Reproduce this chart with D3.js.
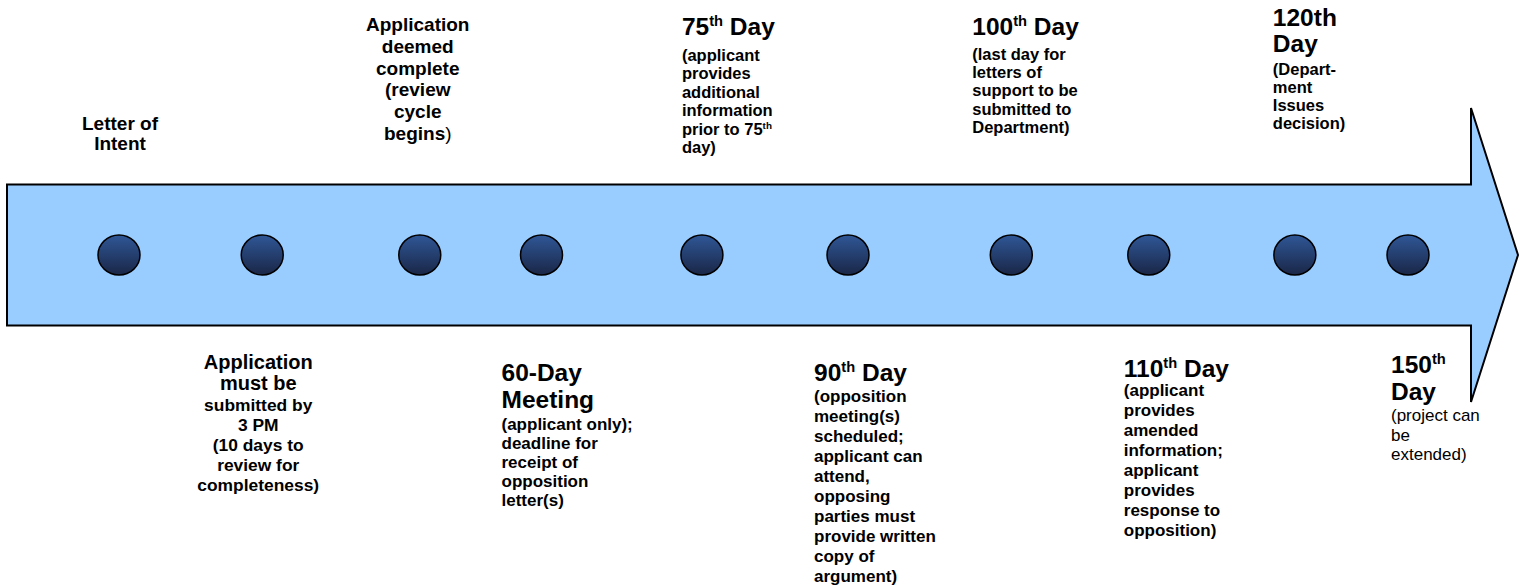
<!DOCTYPE html>
<meta charset="utf-8">
<style>
    body { margin: 0; background: #fff; }
    svg text { font-family: "Liberation Sans", Arial, sans-serif; fill: #000; }
</style>
<svg width="1526" height="586"></svg>
<script src="https://cdn.jsdelivr.net/npm/d3@7"></script>
<script>
    // milestones along the review timeline, left to right
    var milestones = ["Letter of Intent", "Submission", "Complete", "60-Day Meeting", "75th Day",
        "90th Day", "100th Day", "110th Day", "120th Day", "150th Day"];
    // where each dot sits on the arrow, in dot-spacing units
    var slots = [0, 1.0, 2.1, 2.95, 4.07, 5.09, 6.23, 7.19, 8.21, 9.0];
    var sides = ["above", "below", "above", "below", "above", "below", "above", "below", "above", "below"];
    // ^..^ = superscript, _.._ = regular weight
    var titles = [[], [], [], ["60-Day", "Meeting"], ["75^th^ Day"], ["90^th^ Day"], ["100^th^ Day"],
        ["110^th^ Day"], ["120th", "Day"], ["150^th^", "Day"]];
    var notes = [
        ["Letter of", "Intent"],
        ["Application", "must be", "submitted by", "3 PM", "(10 days to", "review for", "completeness)"],
        ["Application", "deemed", "complete", "(review", "cycle", "begins_)_"],
        ["(applicant only);", "deadline for", "receipt of", "opposition", "letter(s)"],
        ["(applicant", "provides", "additional", "information", "prior to 75^th^", "day)"],
        ["(opposition", "meeting(s)", "scheduled;", "applicant can", "attend,", "opposing", "parties must",
            "provide written", "copy of", "argument)"],
        ["(last day for", "letters of", "support to be", "submitted to", "Department)"],
        ["(applicant", "provides", "amended", "information;", "applicant", "provides", "response to",
            "opposition)"],
        ["(Depart-", "ment", "Issues", "decision)"],
        ["(project can", "be", "extended)"]
    ];

    // text box layout for each label (anchor, offset from dot, baselines, sizes)
    var layout = [
        {anchor: "middle", dx: 1, ny: 130, ns: 19, nlh: 19.5},
        {anchor: "middle", dx: -4, ny: 369, ns: 17.4, nlh: 20, big: 2, bs: 20, blh: 21},
        {anchor: "middle", dx: -2, ny: 31, ns: 19, nlh: 21.8},
        {anchor: "start", dx: -40, ty: 381, ts: 24.5, tlh: 27, ny: 430, ns: 17, nlh: 19},
        {anchor: "start", dx: -20, ty: 35, ts: 24.5, tlh: 28, ny: 61, ns: 16.5, nlh: 18.4},
        {anchor: "start", dx: -34, ty: 381, ts: 24.5, tlh: 28, ny: 402, ns: 17, nlh: 20},
        {anchor: "start", dx: -39, ty: 35, ts: 24.5, tlh: 28, ny: 60, ns: 16.5, nlh: 18.2},
        {anchor: "start", dx: -25, ty: 377, ts: 24.5, tlh: 28, ny: 396, ns: 17, nlh: 20},
        {anchor: "start", dx: -22, ty: 26, ts: 24.5, tlh: 26, ny: 75, ns: 16.5, nlh: 18},
        {anchor: "start", dx: -17, ty: 373, ts: 24.5, tlh: 27, ny: 421, ns: 17, nlh: 19.5, weight: "normal"}
    ];

    var svg = d3.select("svg"),
        width = +svg.attr("width"),
        height = +svg.attr("height"),
        cy = 255;

    var x = d3.scaleLinear().domain([0, 9]).range([119, 1408]);

    // big arrow
    var left = 7, shaftEnd = 1471, tip = 1518, shaft = 70.5, head = 147;
    var arrowPts = [[left, cy - shaft], [shaftEnd, cy - shaft], [shaftEnd, cy - head], [tip, cy],
        [shaftEnd, cy + head], [shaftEnd, cy + shaft], [left, cy + shaft]];
    svg.append("path")
        .attr("d", d3.line()(arrowPts) + "Z")
        .attr("fill", "#99ccff")
        .attr("stroke", "#000")
        .attr("stroke-width", 2)
        .attr("stroke-linejoin", "miter");

    var grad = svg.append("defs").append("linearGradient")
        .attr("id", "dot").attr("x1", 0).attr("y1", 0).attr("x2", 0).attr("y2", 1);
    grad.append("stop").attr("offset", "0%").attr("stop-color", "#2f5796");
    grad.append("stop").attr("offset", "100%").attr("stop-color", "#1a2646");

    svg.selectAll(".dot")
        .data(milestones)
        .enter().append("ellipse")
        .attr("class", "dot")
        .attr("cx", function(d, i) { return x(slots[i]); })
        .attr("cy", cy)
        .attr("rx", 21)
        .attr("ry", 20)
        .attr("fill", "url(#dot)")
        .attr("stroke", "#000")
        .attr("stroke-width", 1.5);

    // write one line, handling superscripts and regular-weight runs
    function writeLine(g, str, px, py, size, weight, anchor) {
        var t = g.append("text")
            .attr("x", px).attr("y", py)
            .attr("text-anchor", anchor)
            .style("font-size", size + "px")
            .style("font-weight", weight);
        var parts = str.split(/(\^[^^]*\^|_[^_]*_)/).filter(function(s) { return s.length; });
        var shift = 0;
        parts.forEach(function(p) {
            var sp = t.append("tspan");
            if (p[0] === "^") {
                sp.text(p.slice(1, -1)).style("font-size", (size * 0.6) + "px").attr("dy", -size * 0.36);
                shift = size * 0.36;
            } else {
                if (shift) { sp.attr("dy", shift); shift = 0; }
                if (p[0] === "_") { sp.text(p.slice(1, -1)).style("font-weight", "normal"); }
                else sp.text(p);
            }
        });
    }

    var labels = svg.selectAll(".label")
        .data(milestones)
        .enter().append("g")
        .attr("class", "label");

    labels.each(function(d, i) {
        var g = d3.select(this), L = layout[i], px = x(slots[i]) + L.dx;
        titles[i].forEach(function(line, j) {
            writeLine(g, line, px, L.ty + j * L.tlh, L.ts, "bold", L.anchor);
        });
        var yy = L.ny;
        notes[i].forEach(function(line, j) {
            var isBig = L.big && j < L.big;
            writeLine(g, line, px, yy, isBig ? L.bs : L.ns, L.weight || "bold", L.anchor);
            yy += isBig ? L.blh : L.nlh;
        });
    });
</script>
